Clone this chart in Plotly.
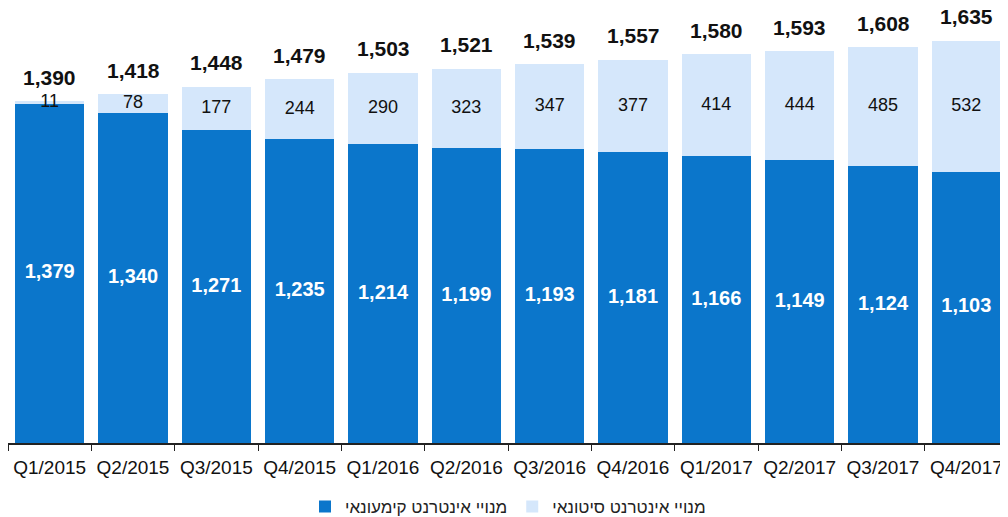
import plotly.graph_objects as go

categories = ["Q1/2015", "Q2/2015", "Q3/2015", "Q4/2015", "Q1/2016", "Q2/2016",
              "Q3/2016", "Q4/2016", "Q1/2017", "Q2/2017", "Q3/2017", "Q4/2017"]
retail = [1379, 1340, 1271, 1235, 1214, 1199, 1193, 1181, 1166, 1149, 1124, 1103]
wholesale = [11, 78, 177, 244, 290, 323, 347, 377, 414, 444, 485, 532]
totals = [1390, 1418, 1448, 1479, 1503, 1521, 1539, 1557, 1580, 1593, 1608, 1635]

name_retail = "מנויי אינטרנט קימעונאי"
name_wholesale = "מנויי אינטרנט סיטונאי"

DARK = "#0B76CB"
LIGHT = "#D5E7FB"
FONT = "Arial, Liberation Sans, sans-serif"

fig = go.Figure()
fig.add_trace(go.Bar(x=categories, y=retail, name=name_retail, marker_color=DARK,
                     marker_line_width=0, hoverinfo="skip"))
fig.add_trace(go.Bar(x=categories, y=wholesale, name=name_wholesale, marker_color=LIGHT,
                     marker_line_width=0, hoverinfo="skip"))

# labels inside the segments
fig.add_trace(go.Scatter(x=categories, y=[r / 2 for r in retail], mode="text",
                         text=[f"{v:,}" for v in retail],
                         textfont=dict(family=FONT, size=20, color="white", weight="bold"),
                         showlegend=False, hoverinfo="skip", cliponaxis=False))
fig.add_trace(go.Scatter(x=categories, y=[r + w / 2 for r, w in zip(retail, wholesale)], mode="text",
                         text=[f"{v:,}" for v in wholesale],
                         textfont=dict(family=FONT, size=18, color="#111111"),
                         showlegend=False, hoverinfo="skip", cliponaxis=False))

for c, r, w, t in zip(categories, retail, wholesale, totals):
    fig.add_annotation(x=c, y=r + w, text=f"<b>{t:,}</b>", showarrow=False,
                       yanchor="middle", yshift=24,
                       font=dict(family=FONT, size=21, color="#111111"))

fig.update_layout(
    barmode="stack",
    bargap=0.17,
    width=1000, height=509,
    margin=dict(l=0, r=0, t=0, b=74, pad=0, autoexpand=False),
    paper_bgcolor="white", plot_bgcolor="white",
    font=dict(family=FONT, color="#111111"),
    legend=dict(orientation="h", x=0.5, xanchor="center", y=-0.147, yanchor="middle",
                traceorder="normal", font=dict(family=FONT, size=17, color="#222222"),
                itemwidth=30),
)
fig.update_xaxes(showline=True, linecolor="#222222", linewidth=1.5,
                 ticks="outside", tickson="boundaries", ticklen=6, tickcolor="#222222",
                 tickfont=dict(family=FONT, size=19, color="#111111"), showgrid=False,
                 automargin=False, ticklabelstandoff=6, tickangle=0,
                 range=[-0.5, len(categories) - 0.5])
fig.update_yaxes(range=[0, 1768], visible=False, showgrid=False, zeroline=False,
                 automargin=False)

fig.write_html("out.html")
